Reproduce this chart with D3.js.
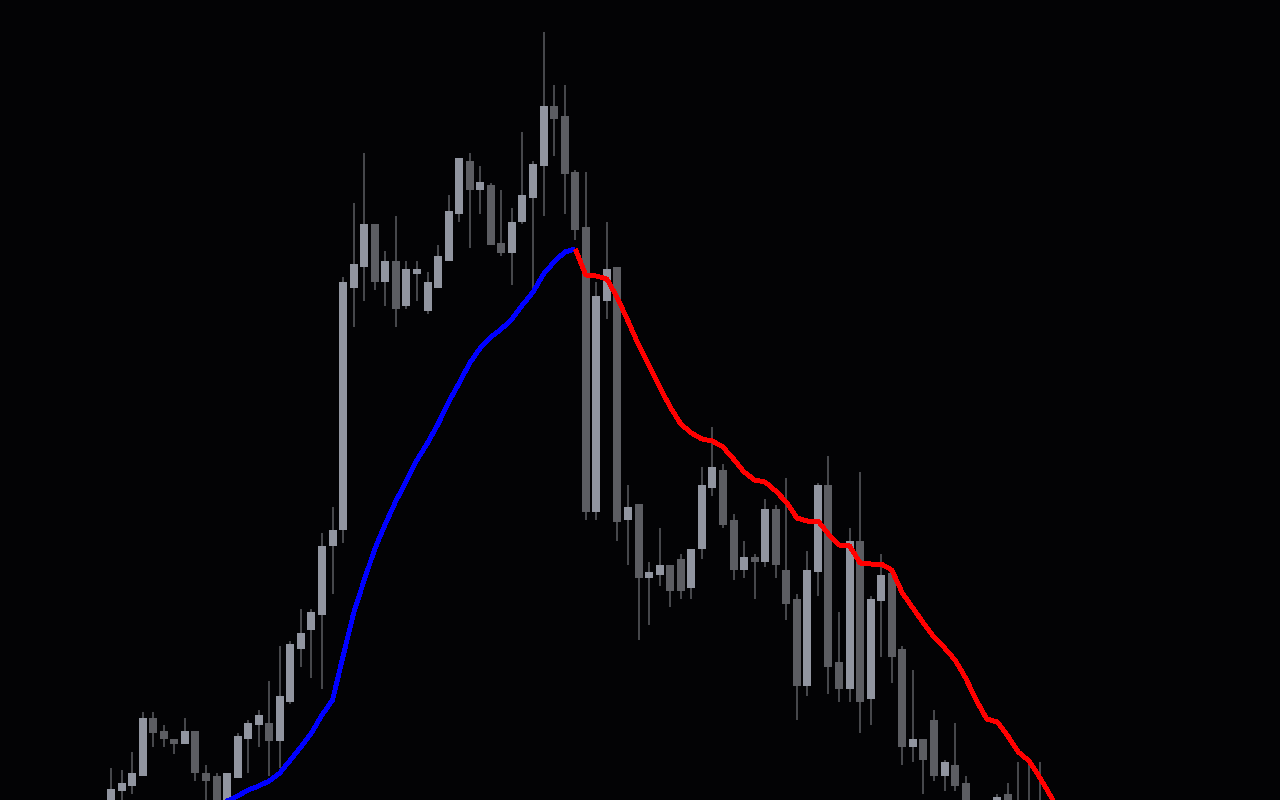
<!DOCTYPE html>
<html>
<head>
<meta charset="utf-8">
<script src="https://cdn.jsdelivr.net/npm/d3@7"></script>
<style>
  html, body { margin: 0; padding: 0; background: #030305; overflow: hidden; }
  svg { display: block; }
</style>
</head>
<body>
<svg id="chart" width="1280" height="800"></svg>
<script>
// Candle data (price units), one entry per bar
const opens  = [195,209,214,224,282,269,261,256,269,227,224,185,222,261,275,277,259,298,351,370,385,454,470,712,733,776,718,739,694,726,689,712,739,786,839,810,815,757,747,778,802,834,894,884,828,773,488,699,733,480,496,422,425,435,441,412,451,512,530,480,430,443,438,491,430,401,314,428,515,338,311,459,301,399,427,351,253,261,280,224,235,217,185,165,185,206,195,192,194];
const highs  = [232,230,248,288,288,275,261,282,269,235,227,227,267,280,290,319,354,359,391,391,467,493,723,797,847,776,749,784,739,739,728,755,805,842,847,834,817,810,792,868,839,968,915,915,830,828,718,778,733,515,496,438,472,435,446,451,533,573,536,486,459,446,501,495,522,406,449,517,544,388,472,528,404,446,430,354,330,261,290,240,277,224,192,194,206,217,238,235,238];
const lows   = [188,197,206,224,253,253,246,256,219,195,180,180,222,227,253,224,232,296,333,322,311,406,457,673,699,710,694,673,691,699,686,712,739,778,752,786,755,744,715,776,712,784,844,786,760,480,480,681,459,435,360,375,414,393,401,401,441,504,472,420,422,401,433,422,380,280,304,404,306,298,298,267,275,343,317,235,238,206,219,209,209,180,160,155,178,180,165,160,160];
const closes = [211,217,227,282,267,261,256,269,227,219,185,227,264,277,285,259,304,356,367,388,454,470,718,736,776,718,739,691,731,731,718,744,789,842,810,818,755,747,778,805,836,894,881,826,770,488,704,731,478,493,422,428,435,409,409,451,515,533,475,430,443,438,491,435,396,314,430,515,333,311,459,298,401,425,343,253,261,240,224,238,214,188,170,188,203,188,175,170,170];

// Moving average values, starting at bar index maStart
const maStart = 10;
const maValues = [193,199,204,210,214,219,227,240,253,267,285,300,344,387,420,451,476,499,519,540,557,576,598,617,637,652,663,671,681,695,708,726,738,748,751,725,724,721,702,679,655,634,613,593,576,567,561,559,553,541,528,520,518,509,498,482,479,479,466,455,454,437,436,436,430,407,392,377,363,352,340,322,300,281,278,264,248,239,223,205,185];

const W = 1280, H = 800;
const svg = d3.select("#chart");
svg.append("rect").attr("width", W).attr("height", H).attr("fill", "#030305");

const candles = opens.map((o, i) => ({ i, o, h: highs[i], l: lows[i], c: closes[i] }));

const x = d3.scaleLinear().domain([0, 88]).range([111, 1039.5]);
const y = d3.scaleLinear().domain([200, 1000]).range([800, 0]);

const UP = "#9195a0", DOWN = "#5c5d62", WICK = "#46474b";
const bodyW = 8, wickW = 2;

const g = svg.append("g").attr("shape-rendering", "crispEdges");

g.selectAll("rect.wick").data(candles).enter().append("rect")
  .attr("class", "wick")
  .attr("x", d => Math.round(x(d.i) - wickW / 2))
  .attr("width", wickW)
  .attr("y", d => y(d.h))
  .attr("height", d => Math.max(1, y(d.l) - y(d.h)))
  .attr("fill", WICK);

g.selectAll("rect.body").data(candles).enter().append("rect")
  .attr("class", "body")
  .attr("x", d => Math.round(x(d.i) - bodyW / 2))
  .attr("width", bodyW)
  .attr("y", d => y(Math.max(d.o, d.c)))
  .attr("height", d => Math.max(1, Math.abs(y(d.o) - y(d.c))))
  .attr("fill", d => d.c > d.o ? UP : DOWN);

// MA line, coloured by direction (blue rising, red falling)
const ma = maValues.map((v, k) => ({ i: maStart + k, v }));
const runs = [];
for (let k = 0; k < ma.length - 1; k++) {
  const col = ma[k + 1].v > ma[k].v ? "#0000ff" : "#ff0000";
  const last = runs[runs.length - 1];
  if (last && last.color === col) last.pts.push(ma[k + 1]);
  else runs.push({ color: col, pts: [ma[k], ma[k + 1]] });
}
const line = d3.line().x(d => x(d.i)).y(d => y(d.v));
svg.append("g").selectAll("path").data(runs).enter().append("path")
  .attr("d", d => line(d.pts))
  .attr("fill", "none")
  .attr("stroke", d => d.color)
  .attr("stroke-width", 5)
  .attr("stroke-linejoin", "miter")
  .attr("shape-rendering", "crispEdges");
</script>
</body>
</html>
